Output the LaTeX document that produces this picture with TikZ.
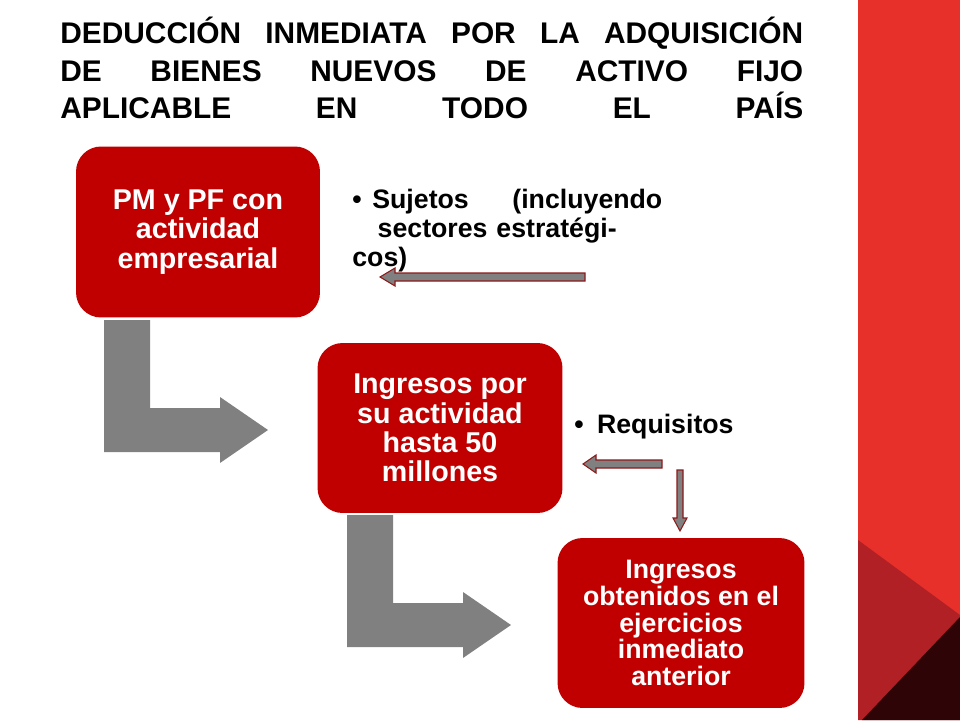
\documentclass[tikz,border=0pt]{standalone}
\usepackage{fontspec}
\setmainfont{Liberation Sans}
\begin{document}
\begin{tikzpicture}[x=0.02cm,y=-0.02cm,
  box/.style={draw=none,fill=boxred,rounded corners=0.5cm,text=white,font=\bfseries\fontsize{16.3}{16.7}\selectfont,align=center},
  btxt/.style={font=\bfseries\fontsize{15.2}{16.5}\selectfont,anchor=west,align=left},
  small/.style={fill=bgray,draw=darkred,line width=0.6pt}]
\definecolor{boxred}{HTML}{C00000}
\definecolor{bgray}{HTML}{808080}
\definecolor{darkred}{HTML}{8B1A1A}
\definecolor{band}{HTML}{E8302A}
\definecolor{band2}{HTML}{B02025}
\definecolor{band3}{HTML}{2E0406}
\useasboundingbox (0,0) rectangle (960,720);
\fill[band] (858,0) rectangle (960,720);
\fill[band2] (858,540) -- (960,615) -- (960,720) -- (858,720) -- cycle;
\fill[band3] (960,617) -- (960,720) -- (862,720) -- cycle;
\node[anchor=north west,inner sep=0,align=left,font=\bfseries\fontsize{17}{21.3}\selectfont] (title) at (60,17)
 {\makebox[14.86cm][s]{DEDUCCIÓN INMEDIATA POR LA ADQUISICIÓN}\\
  \makebox[14.86cm][s]{DE BIENES NUEVOS DE ACTIVO FIJO}\\
  \makebox[14.86cm][s]{APLICABLE EN TODO EL PAÍS}};
\node[box,minimum width=4.88cm,minimum height=3.42cm] (b1) at (198,232) {PM y PF con\\actividad\\empresarial};
\node[box,minimum width=4.9cm,minimum height=3.4cm] (b2) at (440,428) {Ingresos por\\su actividad\\hasta 50\\millones};
\node[box,minimum width=4.94cm,minimum height=3.4cm,font=\bfseries\fontsize{15.2}{15.3}\selectfont] (b3) at (681,623) {Ingresos\\obtenidos en el\\ejercicios\\inmediato\\anterior};
\fill[bgray] (104,320) -- (104,452) -- (220,452) -- (220,463) -- (268,430) -- (220,397) -- (220,408) -- (150,408) -- (150,320) -- cycle;
\fill[bgray] (347,515) -- (347,647) -- (463,647) -- (463,658) -- (511,625) -- (463,592) -- (463,603) -- (393,603) -- (393,515) -- cycle;
\node[btxt,text width=6.2cm,inner sep=0] (t1) at (352,231) {\textbullet\hspace{0.4em}Sujetos\hfill(incluyendo\\\hspace*{0.95em}sectores estratégicos)};
\node[btxt,inner sep=0] (t2) at (574,427) {\textbullet\hspace{0.5em}Requisitos};
\draw[small] (585,273) -- (395,273) -- (395,268) -- (380,277) -- (395,286) -- (395,281) -- (585,281) -- cycle;
\draw[small] (662,460) -- (596,460) -- (596,455) -- (583,464) -- (596,473) -- (596,468) -- (662,468) -- cycle;
\draw[small] (677,470) -- (677,518) -- (673,518) -- (680,531) -- (687,518) -- (683,518) -- (683,470) -- cycle;
\end{tikzpicture}
\end{document}
